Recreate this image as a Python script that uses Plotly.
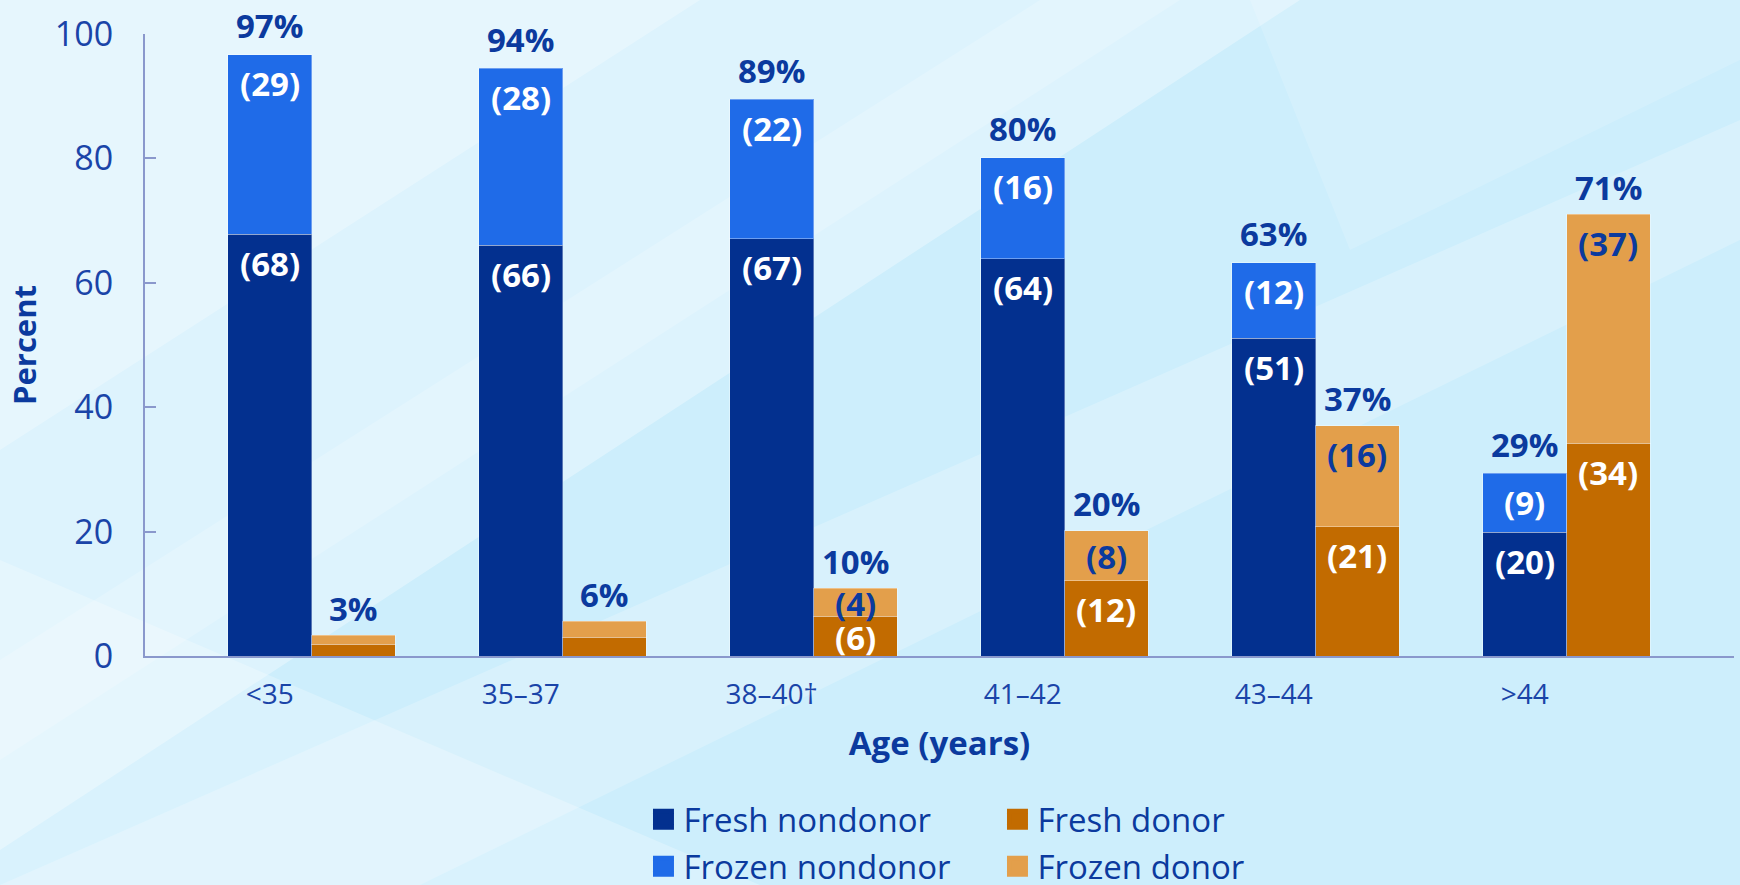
import plotly.graph_objects as go

# ---------------- data ----------------
categories = ["<35", "35–37", "38–40†", "41–42", "43–44", ">44"]
fresh_nondonor = [67.8, 66.0, 67.1, 63.9, 51.1, 19.9]
frozen_nondonor = [28.9, 28.5, 22.4, 16.2, 12.1, 9.5]
fresh_donor = [1.9, 3.0, 6.4, 12.1, 20.8, 34.2]
frozen_donor = [1.4, 2.6, 4.5, 8.0, 16.2, 36.8]

fresh_nondonor_labels = ["(68)", "(66)", "(67)", "(64)", "(51)", "(20)"]
frozen_nondonor_labels = ["(29)", "(28)", "(22)", "(16)", "(12)", "(9)"]
fresh_donor_labels = ["", "", "(6)", "(12)", "(21)", "(34)"]
frozen_donor_labels = ["", "", "(4)", "(8)", "(16)", "(37)"]
nondonor_total_labels = ["97%", "94%", "89%", "80%", "63%", "29%"]
donor_total_labels = ["3%", "6%", "10%", "20%", "37%", "71%"]

series_names = ["Fresh nondonor", "Frozen nondonor", "Fresh donor", "Frozen donor"]
y_ticks = [0, 20, 40, 60, 80, 100]

# ---------------- style ----------------
C_FRESH_ND = "#03308f"
C_FROZEN_ND = "#1f6be8"
C_FRESH_D = "#c26b00"
C_FROZEN_D = "#e39f4b"
C_TEXT = "#0b3a9e"
C_TICK = "#1a44a8"
C_AXIS = "#8a98cc"
FONT = "Open Sans"

W, H = 1740, 885
ML, MR, MT, MB = 145, 6, 34, 229
PW, PH = W - ML - MR, H - MT - MB
BAR_W = 1 / 3
PX_PER_UNIT = PH / 100.0

x_nd = list(range(len(categories)))
x_d = [i + BAR_W for i in x_nd]

fig = go.Figure()

bar_line = dict(width=1, color="rgba(255,255,255,0.35)")
fig.add_trace(go.Bar(x=x_nd, y=fresh_nondonor, width=BAR_W, marker=dict(color=C_FRESH_ND, line=bar_line),
                     name=series_names[0], showlegend=False, hoverinfo="skip"))
fig.add_trace(go.Bar(x=x_nd, y=frozen_nondonor, width=BAR_W, marker=dict(color=C_FROZEN_ND, line=bar_line),
                     name=series_names[1], showlegend=False, hoverinfo="skip"))
fig.add_trace(go.Bar(x=x_d, y=fresh_donor, width=BAR_W, marker=dict(color=C_FRESH_D, line=bar_line),
                     name=series_names[2], showlegend=False, hoverinfo="skip"))
fig.add_trace(go.Bar(x=x_d, y=frozen_donor, width=BAR_W, marker=dict(color=C_FROZEN_D, line=bar_line),
                     name=series_names[3], showlegend=False, hoverinfo="skip"))

# legend entries (two rows, two columns)
def legend_entry(name, color, legend):
    return go.Scatter(x=[None], y=[None], mode="markers", name=name, legend=legend,
                      marker=dict(symbol="square", size=16, color=color, line=dict(width=5, color=color)))

fig.add_trace(legend_entry(series_names[0], C_FRESH_ND, "legend"))
fig.add_trace(legend_entry(series_names[2], C_FRESH_D, "legend"))
fig.add_trace(legend_entry(series_names[1], C_FROZEN_ND, "legend2"))
fig.add_trace(legend_entry(series_names[3], C_FROZEN_D, "legend2"))

# ---------------- labels ----------------
annotations = []
lab_font = dict(family=FONT, size=33, weight="bold")

def seg_label(x, base, val, text, color):
    if not text:
        return
    seg_px = val * PX_PER_UNIT
    if seg_px < 56:
        y, shift = base + val / 2, -1
    else:
        y, shift = base + val, -29
    annotations.append(dict(x=x, y=y, yshift=shift, text=text, showarrow=False,
                            xanchor="center", yanchor="middle", font=dict(lab_font, color=color)))

for i in range(len(categories)):
    seg_label(x_nd[i], 0, fresh_nondonor[i], fresh_nondonor_labels[i], "white")
    seg_label(x_nd[i], fresh_nondonor[i], frozen_nondonor[i], frozen_nondonor_labels[i], "white")
    seg_label(x_d[i], 0, fresh_donor[i], fresh_donor_labels[i], "white")
    seg_label(x_d[i], fresh_donor[i], frozen_donor[i], frozen_donor_labels[i], C_TEXT)
    annotations.append(dict(x=x_nd[i], y=fresh_nondonor[i] + frozen_nondonor[i], yshift=29,
                            text=nondonor_total_labels[i], showarrow=False, yanchor="middle",
                            font=dict(lab_font, color=C_TEXT)))
    annotations.append(dict(x=x_d[i], y=fresh_donor[i] + frozen_donor[i], yshift=27,
                            text=donor_total_labels[i], showarrow=False, yanchor="middle",
                            font=dict(lab_font, color=C_TEXT)))

# ---------------- background ----------------
def px2paper(px, py):
    return ((px - ML) / PW, (H - MB - py) / PH)

def poly(points, color):
    pts = [px2paper(px, py) for px, py in points]
    path = "M " + " L ".join(f"{a:.4f},{b:.4f}" for a, b in pts) + " Z"
    return dict(type="path", path=path, xref="paper", yref="paper", fillcolor=color,
                line=dict(width=0), layer="below")

shapes = [
    poly([(0, 0), (1300, 0), (0, 850)], "rgba(255,255,255,0.32)"),
    poly([(0, 0), (700, 0), (0, 450)], "rgba(255,255,255,0.28)"),
    poly([(0, 885), (420, 885), (1740, 240), (1740, 120)], "rgba(255,255,255,0.22)"),
    poly([(0, 660), (0, 760), (1180, 0), (1040, 0)], "rgba(255,255,255,0.18)"),
    poly([(0, 560), (0, 885), (760, 885)], "rgba(255,255,255,0.25)"),
    poly([(1250, 0), (1740, 0), (1740, 60), (1350, 250)], "rgba(255,255,255,0.15)"),
]

fig.update_layout(
    width=W, height=H,
    margin=dict(l=ML, r=MR, t=MT, b=MB, pad=0, autoexpand=False),
    barmode="stack",
    paper_bgcolor="#cdeefc",
    plot_bgcolor="rgba(0,0,0,0)",
    shapes=shapes,
    annotations=annotations,
    xaxis=dict(
        range=[-0.497, 5.834], tickmode="array", tickvals=x_nd, ticktext=categories,
        showgrid=False, zeroline=False, showline=True, linecolor=C_AXIS, linewidth=2,
        ticks="", tickfont=dict(family=FONT, size=28, color=C_TICK), ticklabelstandoff=12,
        title=dict(text="Age (years)", font=dict(family=FONT, size=33, weight="bold", color=C_TEXT), standoff=21),
        fixedrange=True,
    ),
    yaxis=dict(
        range=[0, 100], tickmode="array", tickvals=y_ticks,
        showgrid=False, zeroline=False, showline=True, linecolor=C_AXIS, linewidth=2,
        ticks="inside", ticklen=11, tickwidth=2, tickcolor=C_AXIS,
        tickfont=dict(family=FONT, size=34, color=C_TICK), ticklabelstandoff=23,
        title=dict(text="Percent", font=dict(family=FONT, size=31, weight="bold", color=C_TEXT), standoff=9),
        fixedrange=True,
    ),
    legend=dict(orientation="h", x=0.3137, xanchor="left", y=-0.2624, yanchor="middle", traceorder="normal",
                entrywidth=309, entrywidthmode="pixels", bgcolor="rgba(0,0,0,0)",
                font=dict(family=FONT, size=33, color=C_TEXT), itemclick=False, itemdoubleclick=False),
    legend2=dict(orientation="h", x=0.3137, xanchor="left", y=-0.338, yanchor="middle", traceorder="normal",
                 entrywidth=309, entrywidthmode="pixels", bgcolor="rgba(0,0,0,0)",
                 font=dict(family=FONT, size=33, color=C_TEXT), itemclick=False, itemdoubleclick=False),
    showlegend=True,
)

fig.write_html(
    "out.html",
    config={"displayModeBar": False},
    post_script="document.body.style.margin='0px';document.body.style.overflow='hidden';",
)
